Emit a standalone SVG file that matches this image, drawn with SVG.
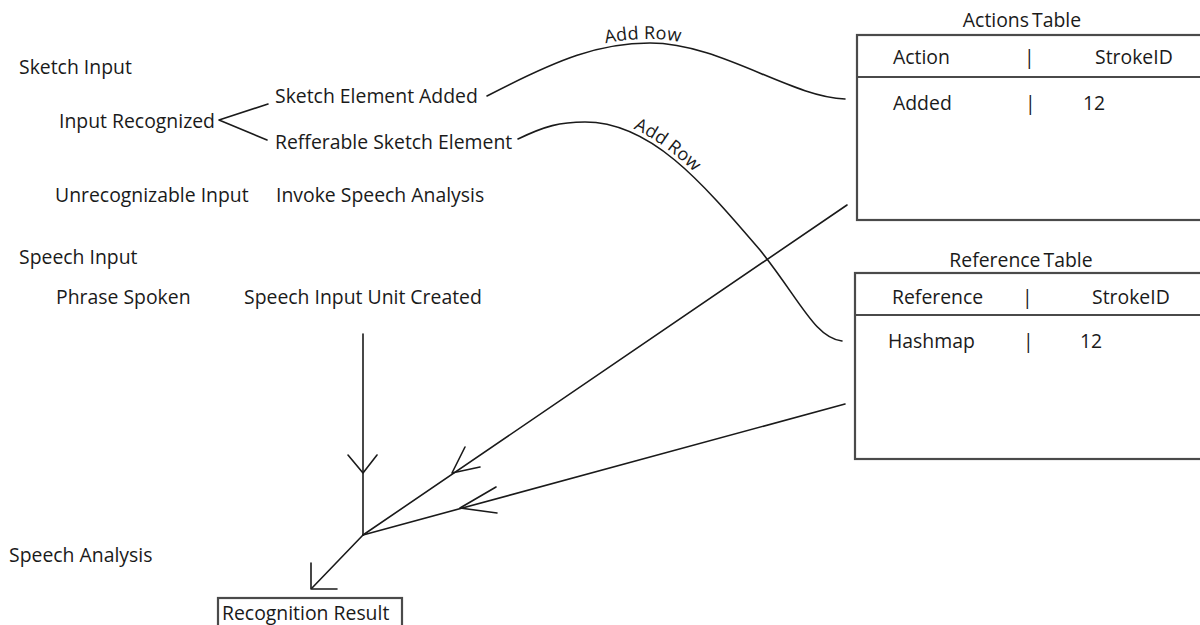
<svg xmlns="http://www.w3.org/2000/svg" width="1200" height="625" viewBox="0 0 1200 625">
<style>
text{font-family:"Open Sans","Noto Sans","Liberation Sans",sans-serif;font-size:19.4px;fill:#1a1a1a}
.lbl{font-size:18px}
.title{word-spacing:-2px}
.con{fill:none;stroke:#1a1a1a;stroke-width:1.6;stroke-linecap:round;stroke-linejoin:round}
.tbl{fill:#fff;stroke:#4a4a4a;stroke-width:2.2}
.div{stroke:#4a4a4a;stroke-width:2.2}
</style>
<rect width="1200" height="625" fill="#fff"/>
<g id="connectors">
<path id="c1" class="con" d="M487,96 C560,58 600,43 650,43 C720,43 790,97 845,99"/>
<path id="c2" class="con" d="M518,139 C545,126 560,122 585,122 C650,122 700,180 760,250 C800,300 815,338 842,341"/>
<text class="lbl"><textPath href="#c1" startOffset="44%" text-anchor="middle"><tspan dy="-4">Add Row</tspan></textPath></text>
<text class="lbl"><textPath href="#c2" startOffset="37%" text-anchor="middle"><tspan dy="-4">Add Row</tspan></textPath></text>
<polyline class="con" points="268,104 219,120 267,140"/>
<line class="con" x1="363" y1="334" x2="363" y2="535"/>
<polyline class="con" points="348,455 363,473 377,455"/>
<line class="con" x1="847" y1="205" x2="363" y2="535"/>
<polyline class="con" points="465,447 452,473 480,467"/>
<line class="con" x1="845" y1="404" x2="363" y2="535"/>
<polyline class="con" points="496,487 460,508 497,513"/>
<line class="con" x1="363" y1="535" x2="312" y2="588"/>
<polyline class="con" points="311,563 311,589 337,589"/>
</g>
<g id="sketch-input"><text x="19" y="74">Sketch Input</text></g>
<g id="input-recognized"><text x="59" y="128">Input Recognized</text></g>
<g id="sketch-element-added"><text x="275" y="103">Sketch Element Added</text></g>
<g id="refferable-sketch-element"><text x="275" y="149">Refferable Sketch Element</text></g>
<g id="unrecognizable-input"><text x="55" y="202">Unrecognizable Input</text></g>
<g id="invoke-speech-analysis"><text x="276" y="202">Invoke Speech Analysis</text></g>
<g id="speech-input"><text x="19" y="264">Speech Input</text></g>
<g id="phrase-spoken"><text x="56" y="304">Phrase Spoken</text></g>
<g id="speech-input-unit-created"><text x="244" y="304">Speech Input Unit Created</text></g>
<g id="speech-analysis"><text x="9" y="562">Speech Analysis</text></g>
<g id="recognition-result">
<rect class="tbl" x="218" y="598" width="184" height="40"/>
<text x="222" y="620">Recognition Result</text>
</g>
<g id="actions-table">
<text class="title" x="1022" y="27" text-anchor="middle">Actions Table</text>
<rect class="tbl" x="857" y="35" width="360" height="185"/>
<line class="div" x1="857" y1="77" x2="1200" y2="77"/>
<text x="893" y="64">Action</text>
<text x="1024" y="64">|</text>
<text x="1095" y="64">StrokeID</text>
<text x="893" y="110">Added</text>
<text x="1025" y="110">|</text>
<text x="1083" y="110">12</text>
</g>
<g id="reference-table">
<text class="title" x="1021" y="267" text-anchor="middle">Reference Table</text>
<rect class="tbl" x="855" y="273" width="360" height="186"/>
<line class="div" x1="855" y1="315" x2="1200" y2="315"/>
<text x="892" y="304">Reference</text>
<text x="1022" y="304">|</text>
<text x="1092" y="304">StrokeID</text>
<text x="888" y="348">Hashmap</text>
<text x="1023" y="348">|</text>
<text x="1080" y="348">12</text>
</g>
</svg>
